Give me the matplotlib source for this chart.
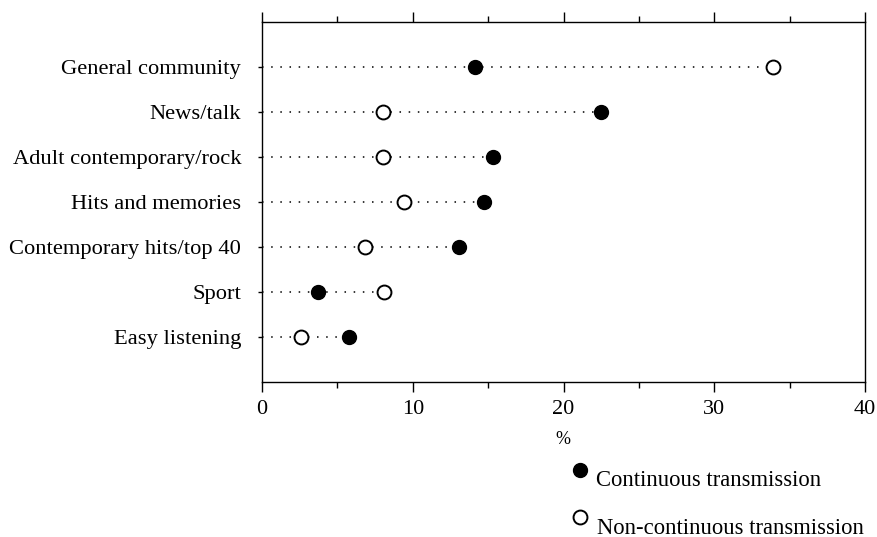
import matplotlib
matplotlib.use("Agg")
import matplotlib.pyplot as plt
from matplotlib.lines import Line2D
from matplotlib.ticker import MultipleLocator

plt.rcParams['font.family'] = ['Liberation Serif', 'DejaVu Serif']

categories = [
    "General community",
    "News/talk",
    "Adult contemporary/rock",
    "Hits and memories",
    "Contemporary hits/top 40",
    "Sport",
    "Easy listening",
]
continuous = [14.1, 22.5, 15.3, 14.7, 13.1, 3.7, 5.8]
non_continuous = [33.9, 8.0, 8.0, 9.4, 6.8, 8.1, 2.6]
x_ticks = [0, 10, 20, 30, 40]

W, H = 877, 537
fig = plt.figure(figsize=(W / 100, H / 100), dpi=100)
ax = fig.add_axes([262 / W, (H - 382) / H, (865 - 262) / W, (382 - 22) / H])

ypos = list(range(len(categories)))
for y, c, n in zip(ypos, continuous, non_continuous):
    ax.plot([0, max(c, n)], [y, y], linestyle=(0, (1, 5)), color='black',
            linewidth=1.1, zorder=1)

ax.plot(continuous, ypos, linestyle='none', marker='o', markersize=10,
        markerfacecolor='black', markeredgecolor='black', zorder=3)
ax.plot(non_continuous, ypos, linestyle='none', marker='o', markersize=10,
        markerfacecolor='white', markeredgecolor='black', markeredgewidth=1.4,
        zorder=3)

ax.set_xlim(0, 40)
ax.set_ylim(len(categories), -1)
ax.set_yticks(ypos)
ax.set_yticklabels(categories, fontsize=16.2)
ax.set_xticks(x_ticks)
ax.set_xticklabels([str(t) for t in x_ticks], fontsize=16)
ax.xaxis.set_minor_locator(MultipleLocator(5))
ax.tick_params(axis='x', which='major', direction='out', length=7, width=1,
               top=True, pad=6)
ax.tick_params(axis='x', which='minor', direction='out', length=4, width=1,
               top=True)
ax.tick_params(axis='y', which='major', direction='out', length=3, width=1,
               pad=12)
for s in ax.spines.values():
    s.set_linewidth(1.0)

fig.text(563 / W, 1 - 440 / H, "%", fontsize=13, ha='center', va='center')

# legend drawn by hand below the axis
fig.add_artist(Line2D([580 / W], [1 - 470 / H], marker='o', markersize=10,
                      markerfacecolor='black', markeredgecolor='black',
                      transform=fig.transFigure))
fig.text(596 / W, 1 - 481 / H, "Continuous transmission", fontsize=16.3,
         ha='left', va='center')
fig.add_artist(Line2D([580 / W], [1 - 517 / H], marker='o', markersize=10,
                      markerfacecolor='white', markeredgecolor='black',
                      markeredgewidth=1.4, transform=fig.transFigure))
fig.text(597 / W, 1 - 528 / H, "Non-continuous transmission", fontsize=16.3,
         ha='left', va='center')

fig.savefig("out.png", dpi=100)
